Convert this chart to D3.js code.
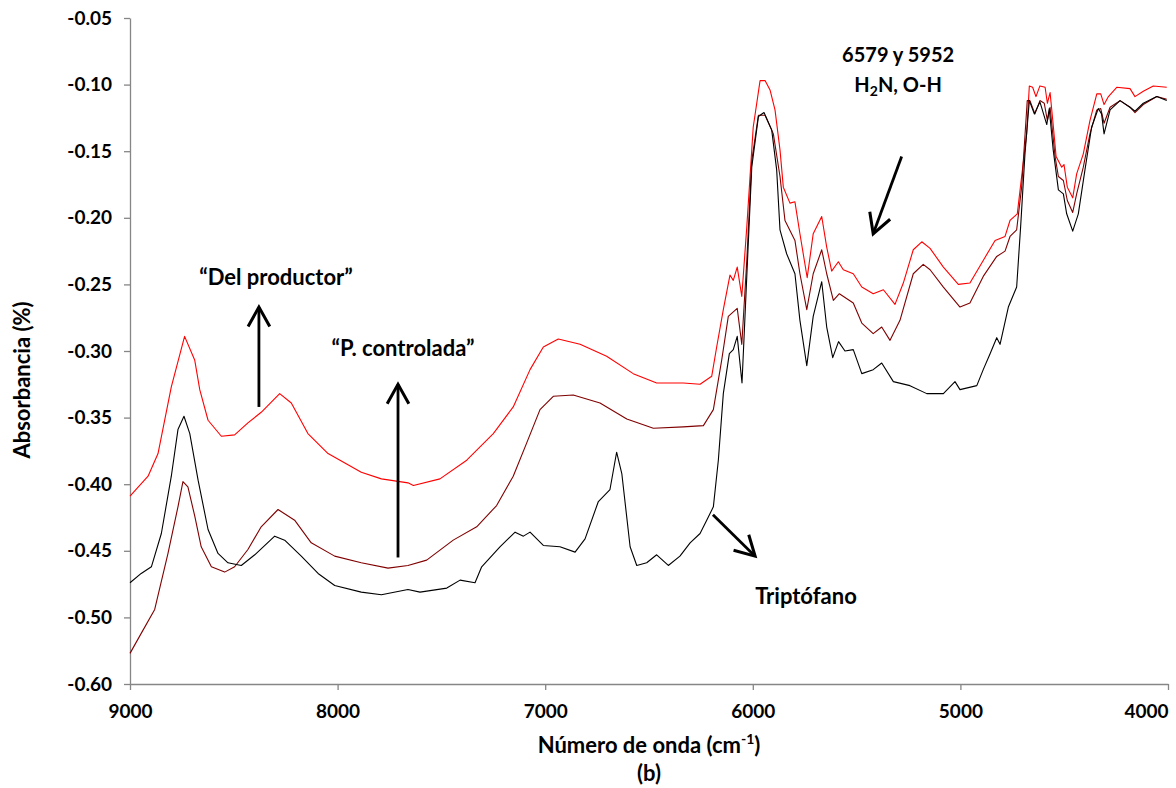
<!DOCTYPE html>
<meta charset="utf-8">
<style>
body { margin: 0; background: #fff; }
svg { font-family: Lato, "Open Sans", sans-serif; font-weight: bold; }
.axis path, .axis line { stroke: #868686; stroke-width: 1.3px; }
.axis text { font-size: 19px; font-weight: bold; fill: #000; font-family: Lato, sans-serif; }
.serie { fill: none; stroke-width: 1.1px; stroke-linejoin: round; }
.note { font-weight: bold; }
</style>
<body>
<svg width="1176" height="788"></svg>
<script src="https://cdn.jsdelivr.net/npm/d3@7"></script>
<script>

// tick labels as printed on the original axis
var yTickValues = [-0.55, -0.50, -0.45, -0.40, -0.35, -0.30, -0.25, -0.20, -0.15, -0.10, -0.05];
var yTickLabels = ["-0.60", "-0.50", "-0.45", "-0.40", "-0.35", "-0.30", "-0.25", "-0.20", "-0.15", "-0.10", "-0.05"];
var xTickValues = [9000, 8000, 7000, 6000, 5000, 4000];

// "Del productor" (red), [wavenumber, absorbance]
var delProductor = [
  [9000,-0.409],[8913,-0.394],[8865,-0.377],[8801,-0.327],[8737,-0.289],[8688,-0.307],[8664,-0.329],
  [8624,-0.352],[8560,-0.364],[8496,-0.363],[8432,-0.354],[8368,-0.346],[8279,-0.332],[8223,-0.339],
  [8143,-0.362],[8046,-0.377],[7886,-0.391],[7789,-0.396],[7661,-0.399],[7635,-0.401],[7507,-0.396],
  [7378,-0.382],[7250,-0.362],[7154,-0.342],[7073,-0.314],[7009,-0.297],[6937,-0.291],[6832,-0.295],
  [6704,-0.304],[6576,-0.317],[6463,-0.324],[6335,-0.324],[6254,-0.325],[6198,-0.319],[6174,-0.297],
  [6142,-0.269],[6110,-0.243],[6094,-0.247],[6075,-0.237],[6053,-0.259],[6029,-0.207],[5998,-0.132],
  [5965,-0.097],[5941,-0.097],[5917,-0.104],[5893,-0.119],[5869,-0.149],[5853,-0.177],[5821,-0.189],
  [5797,-0.188],[5773,-0.212],[5738,-0.245],[5709,-0.212],[5668,-0.199],[5644,-0.222],[5620,-0.240],
  [5588,-0.233],[5564,-0.239],[5516,-0.242],[5475,-0.252],[5420,-0.257],[5371,-0.254],[5315,-0.265],
  [5275,-0.249],[5227,-0.224],[5186,-0.218],[5146,-0.223],[5082,-0.237],[5010,-0.250],[4954,-0.249],
  [4890,-0.232],[4833,-0.217],[4785,-0.214],[4761,-0.202],[4726,-0.197],[4705,-0.169],[4681,-0.137],
  [4668,-0.101],[4652,-0.102],[4636,-0.109],[4617,-0.101],[4592,-0.102],[4581,-0.114],[4568,-0.106],
  [4555,-0.127],[4539,-0.154],[4512,-0.162],[4501,-0.160],[4485,-0.177],[4459,-0.185],[4440,-0.167],
  [4408,-0.152],[4376,-0.127],[4343,-0.107],[4324,-0.107],[4308,-0.115],[4287,-0.109],[4247,-0.102],
  [4183,-0.103],[4159,-0.109],[4119,-0.105],[4071,-0.101],[4006,-0.102]
];

// "P. controlada" (dark red)
var pControlada = [
  [9000,-0.527],[8946,-0.512],[8881,-0.494],[8817,-0.452],[8769,-0.417],[8745,-0.398],[8721,-0.402],
  [8688,-0.424],[8657,-0.447],[8608,-0.462],[8544,-0.466],[8496,-0.462],[8432,-0.449],[8368,-0.432],
  [8287,-0.419],[8207,-0.427],[8127,-0.444],[8014,-0.454],[7886,-0.459],[7757,-0.463],[7661,-0.461],
  [7571,-0.457],[7443,-0.442],[7330,-0.432],[7234,-0.416],[7154,-0.394],[7089,-0.369],[7025,-0.344],
  [6961,-0.334],[6865,-0.333],[6736,-0.339],[6607,-0.351],[6479,-0.358],[6335,-0.357],[6238,-0.356],
  [6190,-0.344],[6150,-0.307],[6118,-0.274],[6075,-0.268],[6053,-0.295],[6029,-0.232],[6005,-0.157],
  [5973,-0.123],[5941,-0.123],[5901,-0.137],[5869,-0.169],[5845,-0.202],[5797,-0.217],[5773,-0.242],
  [5740,-0.269],[5709,-0.242],[5668,-0.224],[5644,-0.242],[5612,-0.262],[5583,-0.257],[5516,-0.264],
  [5475,-0.279],[5420,-0.287],[5379,-0.282],[5339,-0.292],[5291,-0.277],[5227,-0.242],[5179,-0.235],
  [5146,-0.239],[5082,-0.252],[5002,-0.267],[4954,-0.264],[4890,-0.244],[4825,-0.229],[4785,-0.225],
  [4761,-0.214],[4729,-0.209],[4705,-0.177],[4678,-0.112],[4665,-0.112],[4641,-0.122],[4617,-0.112],
  [4596,-0.114],[4581,-0.127],[4568,-0.117],[4544,-0.154],[4528,-0.169],[4504,-0.172],[4485,-0.187],
  [4459,-0.196],[4440,-0.182],[4408,-0.162],[4376,-0.137],[4343,-0.119],[4324,-0.118],[4308,-0.129],
  [4279,-0.117],[4231,-0.112],[4183,-0.117],[4159,-0.121],[4119,-0.115],[4054,-0.109],[4006,-0.111]
];

// "Triptófano" (black)
var triptofano = [
  [9000,-0.474],[8946,-0.467],[8897,-0.462],[8849,-0.437],[8801,-0.394],[8769,-0.359],[8740,-0.349],
  [8712,-0.362],[8672,-0.397],[8624,-0.434],[8576,-0.452],[8528,-0.459],[8464,-0.461],[8399,-0.453],
  [8303,-0.439],[8255,-0.442],[8175,-0.454],[8094,-0.467],[8014,-0.476],[7886,-0.481],[7789,-0.483],
  [7661,-0.479],[7603,-0.481],[7474,-0.478],[7410,-0.472],[7338,-0.474],[7306,-0.462],[7218,-0.447],
  [7145,-0.436],[7105,-0.439],[7073,-0.436],[7009,-0.446],[6929,-0.447],[6856,-0.451],[6808,-0.441],
  [6744,-0.413],[6688,-0.404],[6656,-0.376],[6631,-0.392],[6591,-0.447],[6559,-0.461],[6511,-0.459],
  [6463,-0.453],[6407,-0.461],[6351,-0.454],[6302,-0.444],[6254,-0.437],[6222,-0.427],[6190,-0.417],
  [6166,-0.382],[6142,-0.332],[6113,-0.302],[6094,-0.299],[6075,-0.289],[6052,-0.324],[6029,-0.244],
  [6005,-0.162],[5973,-0.124],[5946,-0.121],[5909,-0.134],[5885,-0.164],[5869,-0.209],[5837,-0.227],
  [5797,-0.242],[5773,-0.277],[5740,-0.311],[5709,-0.274],[5668,-0.248],[5644,-0.282],[5615,-0.305],
  [5587,-0.293],[5556,-0.300],[5516,-0.299],[5475,-0.317],[5420,-0.314],[5379,-0.309],[5323,-0.323],
  [5243,-0.326],[5162,-0.332],[5082,-0.332],[5026,-0.323],[5002,-0.329],[4921,-0.326],[4890,-0.314],
  [4857,-0.302],[4825,-0.290],[4809,-0.295],[4769,-0.267],[4729,-0.252],[4710,-0.207],[4689,-0.152],
  [4668,-0.112],[4644,-0.122],[4617,-0.113],[4584,-0.130],[4572,-0.118],[4553,-0.149],[4528,-0.179],
  [4504,-0.182],[4488,-0.197],[4459,-0.210],[4432,-0.197],[4400,-0.164],[4368,-0.132],[4336,-0.118],
  [4320,-0.122],[4308,-0.137],[4279,-0.119],[4231,-0.112],[4183,-0.117],[4159,-0.120],[4119,-0.114],
  [4054,-0.109],[4006,-0.112]
];

var series = [
  {name: "Del productor", color: "#ff0000", values: delProductor},
  {name: "P. controlada", color: "#800000", values: pControlada},
  {name: "Triptófano", color: "#000000", values: triptofano}
];

// arrows: from [wn, abs] to [wn, abs]
var arrows = [
  [[8379, -0.342], [8379, -0.267]],
  [[7709, -0.455], [7709, -0.325]],
  [[6192, -0.423], [5989, -0.454]],
  [[5283, -0.154], [5420, -0.212]]
];

var svg = d3.select("svg"),
    width = +svg.attr("width"),
    height = +svg.attr("height");

var margin = {top: 18, right: 8, bottom: 104, left: 130};

var x = d3.scaleLinear()
    .domain([9000, 4000])
    .range([margin.left, width - margin.right]);

var y = d3.scaleLinear()
    .domain([-0.55, -0.05])
    .range([height - margin.bottom, margin.top]);

svg.append("rect").attr("width", width).attr("height", height).attr("fill", "#fff");

// axes
var xAxis = svg.append("g")
    .attr("class", "axis")
    .attr("transform", "translate(0," + (height - margin.bottom) + ")")
    .call(d3.axisBottom(x).tickValues(xTickValues).tickFormat(d3.format("d")).tickSize(6).tickSizeOuter(0).tickPadding(15));

// last label kept inside the picture, like the original
xAxis.selectAll(".tick text")
    .filter(function(d) { return d === 4000; })
    .attr("text-anchor", "end")
    .attr("x", 0);

svg.append("g")
    .attr("class", "axis")
    .attr("transform", "translate(" + margin.left + ",0)")
    .call(d3.axisLeft(y).tickValues(yTickValues)
      .tickFormat(function(d, i) { return yTickLabels[i]; })
      .tickSize(6).tickSizeOuter(0).tickPadding(12));

// spectra
var line = d3.line()
    .x(function(d) { return x(d[0]); })
    .y(function(d) { return y(d[1]); });

svg.append("g").selectAll("path")
    .data(series)
    .enter().append("path")
      .attr("class", "serie")
      .attr("stroke", function(d) { return d.color; })
      .attr("d", function(d) { return line(d.values); });

// axis titles
svg.append("text")
    .attr("transform", "translate(30,380) rotate(-90)")
    .attr("text-anchor", "middle")
    .style("font-size", "22px")
    .text("Absorbancia (%)");

var xt = svg.append("text")
    .attr("x", (margin.left + width - margin.right) / 2)
    .attr("y", 753)
    .attr("text-anchor", "middle")
    .style("font-size", "22px");
xt.append("tspan").text("Número de onda (cm");
xt.append("tspan").attr("dy", -9).style("font-size", "14px").text("-1");
xt.append("tspan").attr("dy", 9).text(")");

svg.append("text")
    .attr("x", (margin.left + width - margin.right) / 2)
    .attr("y", 781)
    .attr("text-anchor", "middle")
    .style("font-size", "22px")
    .text("(b)");

// arrows
var defs = svg.append("defs");
defs.append("marker")
    .attr("id", "head")
    .attr("viewBox", "-10 -6 12 12")
    .attr("refX", 0)
    .attr("refY", 0)
    .attr("markerWidth", 26)
    .attr("markerHeight", 26)
    .attr("markerUnits", "userSpaceOnUse")
    .attr("orient", "auto")
  .append("path")
    .attr("d", "M-9,-5L0,0L-9,5")
    .attr("fill", "none")
    .attr("stroke", "#000")
    .attr("stroke-width", 1.4);

svg.append("g").selectAll("line")
    .data(arrows)
    .enter().append("line")
      .attr("x1", function(d) { return x(d[0][0]); })
      .attr("y1", function(d) { return y(d[0][1]); })
      .attr("x2", function(d) { return x(d[1][0]); })
      .attr("y2", function(d) { return y(d[1][1]); })
      .attr("stroke", "#000")
      .attr("stroke-width", 2.8)
      .attr("marker-end", "url(#head)");

// notes
function note(wn, ab, txt, size) {
  return svg.append("text")
      .attr("class", "note")
      .attr("x", x(wn))
      .attr("y", y(ab))
      .attr("dy", "0.35em")
      .attr("text-anchor", "middle")
      .style("font-size", size + "px")
      .text(txt);
}
note(8297, -0.245, "\u201CDel productor\u201D", 22);
note(7685, -0.298, "\u201CP. controlada\u201D", 22);
note(5744, -0.484, "Triptófano", 22);
note(5300, -0.078, "6579 y 5952", 20);
var h2n = note(5300, -0.100, "", 20);
h2n.append("tspan").text("H");
h2n.append("tspan").attr("dy", 4).style("font-size", "14px").text("2");
h2n.append("tspan").attr("dy", -4).text("N, O-H");

</script>
</body>
